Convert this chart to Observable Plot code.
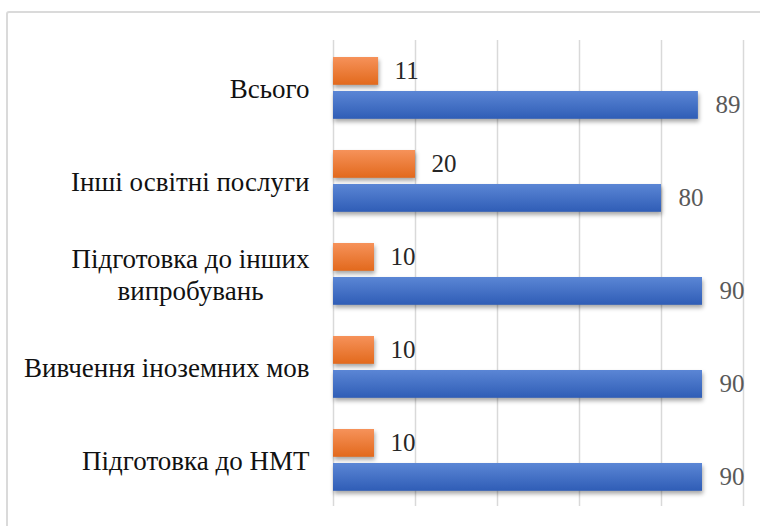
<!DOCTYPE html>
<html><head><meta charset="utf-8">
<script src="https://cdn.jsdelivr.net/npm/d3@7"></script>
<script src="https://cdn.jsdelivr.net/npm/@observablehq/plot@0.6"></script>
<style>
body{margin:0;background:#fff;overflow:hidden;font-family:"Liberation Serif",serif;}
#wrap{position:relative;width:760px;height:526px;overflow:hidden;}
#frame{position:absolute;left:6px;top:11px;width:800px;height:600px;border:2px solid #dadada;border-radius:3px;box-sizing:border-box;}
#chart{position:absolute;left:0;top:0;}
</style></head><body>
<div id="wrap"><div id="frame"></div><div id="chart"></div></div>
<script>
const categories = ["Всього", "Інші освітні послуги", "Підготовка до інших\nвипробувань", "Вивчення іноземних мов", "Підготовка до НМТ"];
const orangeValues = [11, 20, 10, 10, 10];
const blueValues = [89, 80, 90, 90, 90];
const gridTicks = [0, 20, 40, 60, 80, 100];

const rowsO = categories.map((c, i) => ({category: c, value: orangeValues[i]}));
const rowsB = categories.map((c, i) => ({category: c, value: blueValues[i]}));

const serif = "Liberation Serif";

const plot = Plot.plot({
  width: 760, height: 526,
  marginLeft: 333, marginRight: 17, marginTop: 40, marginBottom: 20,
  x: {domain: [0, 100], axis: null},
  y: {domain: categories, padding: 0, label: null},
  style: {background: "transparent", color: "#111111", fontFamily: "Liberation Serif"},
  marks: [
    Plot.ruleX(gridTicks, {stroke: "#d9d9d9", strokeWidth: 1.5}),
    Plot.barX(rowsO, {x: "value", y: "category", fill: "url(#gradOrange)", insetTop: 16, insetBottom: 49.2}),
    Plot.barX(rowsB, {x: "value", y: "category", fill: "url(#gradBlue)", insetTop: 50, insetBottom: 15.2}),
    Plot.text(rowsO, {x: "value", y: "category", text: d => String(d.value), dx: 16, dy: -16.6, textAnchor: "start", fontSize: 25, fontFamily: serif, fill: "#262626"}),
    Plot.text(rowsB, {x: "value", y: "category", text: d => String(d.value), dx: 17, dy: 17.4, textAnchor: "start", fontSize: 25, fontFamily: serif, fill: "#595959"}),
    Plot.axisY({tickSize: 0, tickPadding: 24, fontSize: 27, fontFamily: serif, lineHeight: 1.18, label: null})
  ]
});

document.getElementById("chart").appendChild(plot);
const svg = d3.select(plot);
svg.style("font-family", "'Liberation Serif', serif");
svg.selectAll("text, tspan").attr("font-family", "Liberation Serif").style("font-family", "'Liberation Serif', serif");
svg.insert("defs", ":first-child").html(`
  <linearGradient id="gradOrange" x1="0" y1="0" x2="0" y2="1">
    <stop offset="0" stop-color="#F6925A"/>
    <stop offset="1" stop-color="#E2691C"/>
  </linearGradient>
  <linearGradient id="gradBlue" x1="0" y1="0" x2="0" y2="1">
    <stop offset="0" stop-color="#5B86D5"/>
    <stop offset="1" stop-color="#2F5DB6"/>
  </linearGradient>`);
svg.selectAll('g[aria-label="bar"]').style("filter", "drop-shadow(1px 3px 2px rgba(0,0,0,0.35))");

// center wrapped category labels like the original
svg.selectAll('g[aria-label="y-axis tick label"] text').each(function() {
  const spans = this.querySelectorAll("tspan");
  if (spans.length > 1) {
    let w = 0;
    spans.forEach(s => { w = Math.max(w, s.getComputedTextLength()); });
    this.setAttribute("text-anchor", "middle");
    spans.forEach(s => s.setAttribute("x", -w / 2));
  }
});
</script>
</body></html>
